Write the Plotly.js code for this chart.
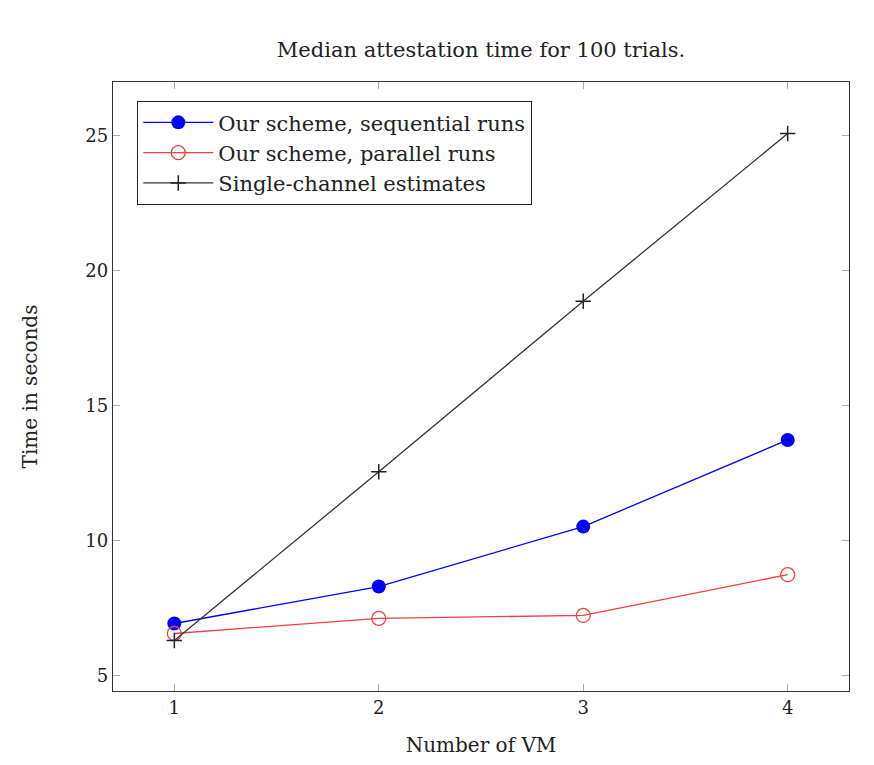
<!DOCTYPE html>
<html>
<head>
<meta charset="utf-8">
<script src="https://cdn.plot.ly/plotly-3.0.1.min.js"></script>
<style>html,body{margin:0;padding:0;background:#fff;}</style>
</head>
<body>
<div id="chart" style="width:874px;height:765px;"></div>
<script>
const vms = [1, 2, 3, 4];
const sequential = [6.92, 8.29, 10.51, 13.72];
const parallel = [6.55, 7.11, 7.22, 8.73];
const singleChannel = [6.29, 12.54, 18.86, 25.07];
const xTicks = [1, 2, 3, 4];
const yTicks = [5, 10, 15, 20, 25];

const FONT = "DejaVu Serif, Liberation Serif, serif";

const traces = [
  {x: vms, y: sequential, name: 'Our scheme, sequential runs', mode: 'lines+markers',
   line: {color: '#0000ff', width: 1.3}, marker: {symbol: 'circle', size: 14, color: '#0000ff'}},
  {x: vms, y: parallel, name: 'Our scheme, parallel runs', mode: 'lines+markers',
   line: {color: '#f04040', width: 1.3}, marker: {symbol: 'circle-open', size: 14, color: '#f04040', line: {width: 1.3}}},
  {x: vms, y: singleChannel, name: 'Single-channel estimates', mode: 'lines+markers',
   line: {color: '#333333', width: 1.3}, marker: {symbol: 'cross-thin-open', size: 11, color: '#222', line: {width: 1.5}}}
];

const axisCommon = {
  showgrid: false, zeroline: false, showline: true, mirror: 'ticks',
  linecolor: '#333', linewidth: 1.3, ticks: 'inside', ticklen: 7, tickwidth: 1.3,
  tickcolor: '#aaaaaa', tickfont: {family: FONT, size: 18, color: '#222'}
};

const layout = {
  width: 874, height: 765,
  margin: {l: 113, r: 25, t: 82, b: 74},
  paper_bgcolor: '#fff', plot_bgcolor: '#fff',
  font: {family: FONT, color: '#222'},
  title: {text: 'Median attestation time for 100 trials.', font: {family: FONT, size: 21, color: '#222'},
          x: 0.5, xref: 'paper', y: 0.935, yref: 'container', yanchor: 'middle'},
  xaxis: Object.assign({}, axisCommon, {range: [0.7, 4.3], tickvals: xTicks, ticktext: xTicks.map(String),
    title: {text: 'Number of VM', font: {family: FONT, size: 20, color: '#222'}, standoff: 21}}),
  yaxis: Object.assign({}, axisCommon, {range: [4.42, 26.98], tickvals: yTicks, ticktext: yTicks.map(String),
    title: {text: 'Time in seconds', font: {family: FONT, size: 20, color: '#222'}, standoff: 42}}),
  showlegend: true,
  legend: {x: 0.0326, y: 0.969, xanchor: 'left', yanchor: 'top', bgcolor: '#fff',
    bordercolor: '#222', borderwidth: 1.3, font: {family: FONT, size: 21, color: '#222'},
    itemwidth: 70, tracegroupgap: 0}
};

Plotly.newPlot('chart', traces, layout, {displayModeBar: false, staticPlot: true});
</script>
</body>
</html>
